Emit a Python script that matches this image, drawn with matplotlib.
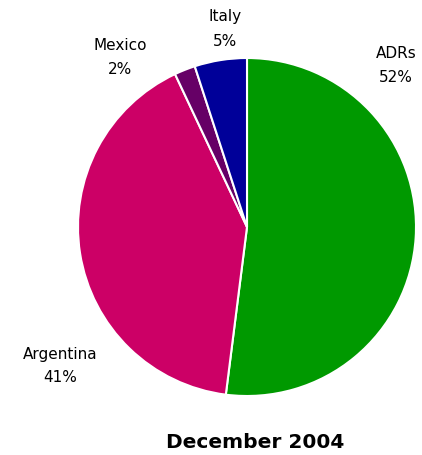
import matplotlib.pyplot as plt

markets = ['ADRs', 'Argentina', 'Mexico', 'Italy']
shares = [52, 41, 2, 5]
colors = ['#009900', '#cc0066', '#660066', '#000099']

# label anchor points in pixels (x from left, y from top)
label_pos = {'ADRs': (396, 65), 'Argentina': (60, 366), 'Mexico': (120, 57), 'Italy': (225, 29)}

W, H = 422, 456
fig = plt.figure(figsize=(W / 100, H / 100), dpi=100)

cx, cy, r = 247, 228, 169
ax = fig.add_axes([(cx - r) / W, (H - cy - r) / H, 2 * r / W, 2 * r / H])
ax.pie(shares, colors=colors, startangle=90, counterclock=False, radius=1,
       wedgeprops=dict(edgecolor='white', linewidth=1.5))
ax.set_xlim(-1, 1)
ax.set_ylim(-1, 1)
ax.set_aspect('equal')
ax.axis('off')

for name, val in zip(markets, shares):
    x, y = label_pos[name]
    fig.text(x / W, 1 - y / H, f'{name}\n{val}%', ha='center', va='center',
             fontsize=11, linespacing=1.75, family='DejaVu Sans')

fig.text(255 / W, 1 - 443 / H, 'December 2004', ha='center', va='center',
         fontsize=14.5, fontweight='bold', family='DejaVu Sans')

fig.savefig('out.png', dpi=100)
